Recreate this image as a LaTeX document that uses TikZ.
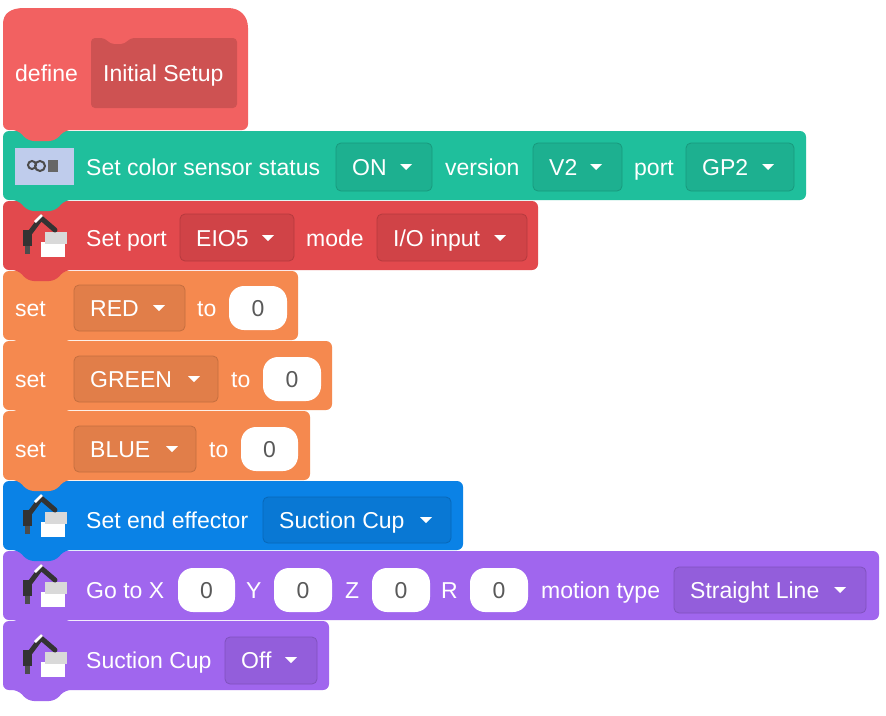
\documentclass[tikz,border=0pt]{standalone}
\usepackage{fontspec}
\setmainfont{Liberation Sans}
\begin{document}
\begin{tikzpicture}[x=1pt,y=-1pt,
  lbl/.style={text=white,font=\fontsize{23}{26}\selectfont,inner sep=0,anchor=west,text height=20pt,text depth=4pt},
  fld/.style={draw=#1!80!black,fill=#1!92!black,rounded corners=5pt,line width=0.8pt},
  oval/.style={fill=white,rounded corners=15pt},
  ovt/.style={text=black!65,font=\fontsize{23}{26}\selectfont,inner sep=0,text height=20pt,text depth=4pt},
  tri/.style={fill=white}]
\definecolor{cdef}{HTML}{F26161}
\definecolor{cteal}{HTML}{1FBF9C}
\definecolor{cred}{HTML}{E2494D}
\definecolor{corg}{HTML}{F5894F}
\definecolor{cblue}{HTML}{0A82E6}
\definecolor{cpur}{HTML}{A066EE}
\useasboundingbox (0,0) rectangle (886,715);
\fill[white] (0,0) rectangle (886,715);
% block with bottom tab
\newcommand\blk[5]{\fill[#5,rounded corners=6pt] (#1,#2) -- (#3,#2) -- (#3,#4) -- (65,#4) -- (55,#4+11) -- (28,#4+11) -- (18,#4) -- (#1,#4) -- cycle;}
\newcommand\dd[4]{\fill[white] (#1-6,#2-3) -- (#1+6,#2-3) -- (#1,#2+3) -- cycle;}
\newcommand\robot[1]{%
 \begin{scope}[shift={(15,#1)}]
  \fill[white] (26,22) rectangle (50,37);
  \fill[black!15] (30,12) rectangle (52,24);
  \draw[black!80,line width=5pt,line cap=round] (14,14) -- (26,-2) -- (40,10);
  \draw[white,line width=2.5pt] (20,2) -- (27,-5);
  \fill[black!80] (8,10) rectangle (17,26);
  \fill[black!70] (10,26) rectangle (15,34);
 \end{scope}}
% bottom to top
\blk{3}{621}{329}{690}{cpur}
\robot{640}
\node[lbl] (t9) at (86,660) {Suction Cup};
\draw[fld=cpur] (225,637) rectangle (317,684);
\node[lbl] (f9) at (241,660) {Off}; \dd{291}{660}{}{}
\blk{3}{551}{879}{620}{cpur}
\robot{570}
\node[lbl] (t8) at (86,590) {Go to X};
\fill[oval] (178,568) rectangle (235,612); \node[ovt] (x) at (206.5,590) {0};
\node[lbl] (ty) at (246,590) {Y};
\fill[oval] (274,568) rectangle (332,612); \node[ovt] (y) at (303,590) {0};
\node[lbl] (tz) at (345,590) {Z};
\fill[oval] (372,568) rectangle (430,612); \node[ovt] (z) at (401,590) {0};
\node[lbl] (tr) at (441,590) {R};
\fill[oval] (470,568) rectangle (528,612); \node[ovt] (r) at (499,590) {0};
\node[lbl] (tm) at (541,590) {motion type};
\draw[fld=cpur] (674,567) rectangle (866,613);
\node[lbl] (f8) at (690,590) {Straight Line}; \dd{840}{590}{}{}
\blk{3}{481}{463}{550}{cblue}
\robot{500}
\node[lbl] (t7) at (86,520) {Set end effector};
\draw[fld=cblue] (263,497) rectangle (451,543);
\node[lbl] (f7) at (279,520) {Suction Cup}; \dd{426}{520}{}{}
\blk{3}{411}{310}{480}{corg}
\node[lbl] (t6) at (15,449) {set};
\draw[fld=corg] (74,426) rectangle (196,472);
\node[lbl] (f6) at (90,449) {BLUE}; \dd{172}{449}{}{}
\node[lbl] (to6) at (209,449) {to};
\fill[oval] (241,427) rectangle (298,471); \node[ovt] (v6) at (269.5,449) {0};
\blk{3}{341}{332}{410}{corg}
\node[lbl] (t5) at (15,379) {set};
\draw[fld=corg] (74,356) rectangle (218,402);
\node[lbl] (f5) at (90,379) {GREEN}; \dd{194}{379}{}{}
\node[lbl] (to5) at (231,379) {to};
\fill[oval] (263,357) rectangle (321,401); \node[ovt] (v5) at (292,379) {0};
\blk{3}{271}{298}{340}{corg}
\node[lbl] (t4) at (15,308) {set};
\draw[fld=corg] (74,285) rectangle (185,331);
\node[lbl] (f4) at (90,308) {RED}; \dd{159}{308}{}{}
\node[lbl] (to4) at (197,308) {to};
\fill[oval] (229,286) rectangle (287,330); \node[ovt] (v4) at (258,308) {0};
\blk{3}{201}{538}{270}{cred}
\robot{220}
\node[lbl] (t3) at (86,238) {Set port};
\draw[fld=cred] (180,214) rectangle (294,261);
\node[lbl] (f3) at (196,238) {EIO5}; \dd{268}{238}{}{}
\node[lbl] (tmode) at (306,238) {mode};
\draw[fld=cred] (377,214) rectangle (527,261);
\node[lbl] (f3b) at (393,238) {I/O input}; \dd{500}{238}{}{}
\blk{3}{131}{806}{200}{cteal}
\fill[cyan!45!blue!25] (15,148) rectangle (74,185);
\draw[black!70,line width=2pt] (32,165) circle (4) (40,166) circle (5);
\fill[black!60] (48,160) rectangle (58,172);
\node[lbl] (t2) at (86,167) {Set color sensor status};
\draw[fld=cteal] (336,143) rectangle (432,191);
\node[lbl] (f2a) at (352,167) {ON}; \dd{406}{167}{}{}
\node[lbl] (tv) at (445,167) {version};
\draw[fld=cteal] (533,143) rectangle (622,191);
\node[lbl] (f2b) at (549,167) {V2}; \dd{596}{167}{}{}
\node[lbl] (tp) at (634,167) {port};
\draw[fld=cteal] (686,143) rectangle (794,191);
\node[lbl] (f2c) at (702,167) {GP2}; \dd{768}{167}{}{}
% define hat
\fill[cdef,rounded corners=6pt] (3,130) -- (3,30) .. controls (3,14) and (10,8) .. (30,8) -- (222,8) .. controls (240,8) and (248,16) .. (248,34) -- (248,130) -- (65,130) -- (55,141) -- (28,141) -- (18,130) -- cycle;
\fill[cdef!85!black,rounded corners=4pt] (91,38) -- (105,38) -- (110,44) -- (125,44) -- (130,38) -- (237,38) -- (237,108) -- (91,108) -- cycle;
\node[lbl] (t1) at (15,73) {define};
\node[lbl] (t1b) at (103,73) {Initial Setup};
\end{tikzpicture}
\end{document}
